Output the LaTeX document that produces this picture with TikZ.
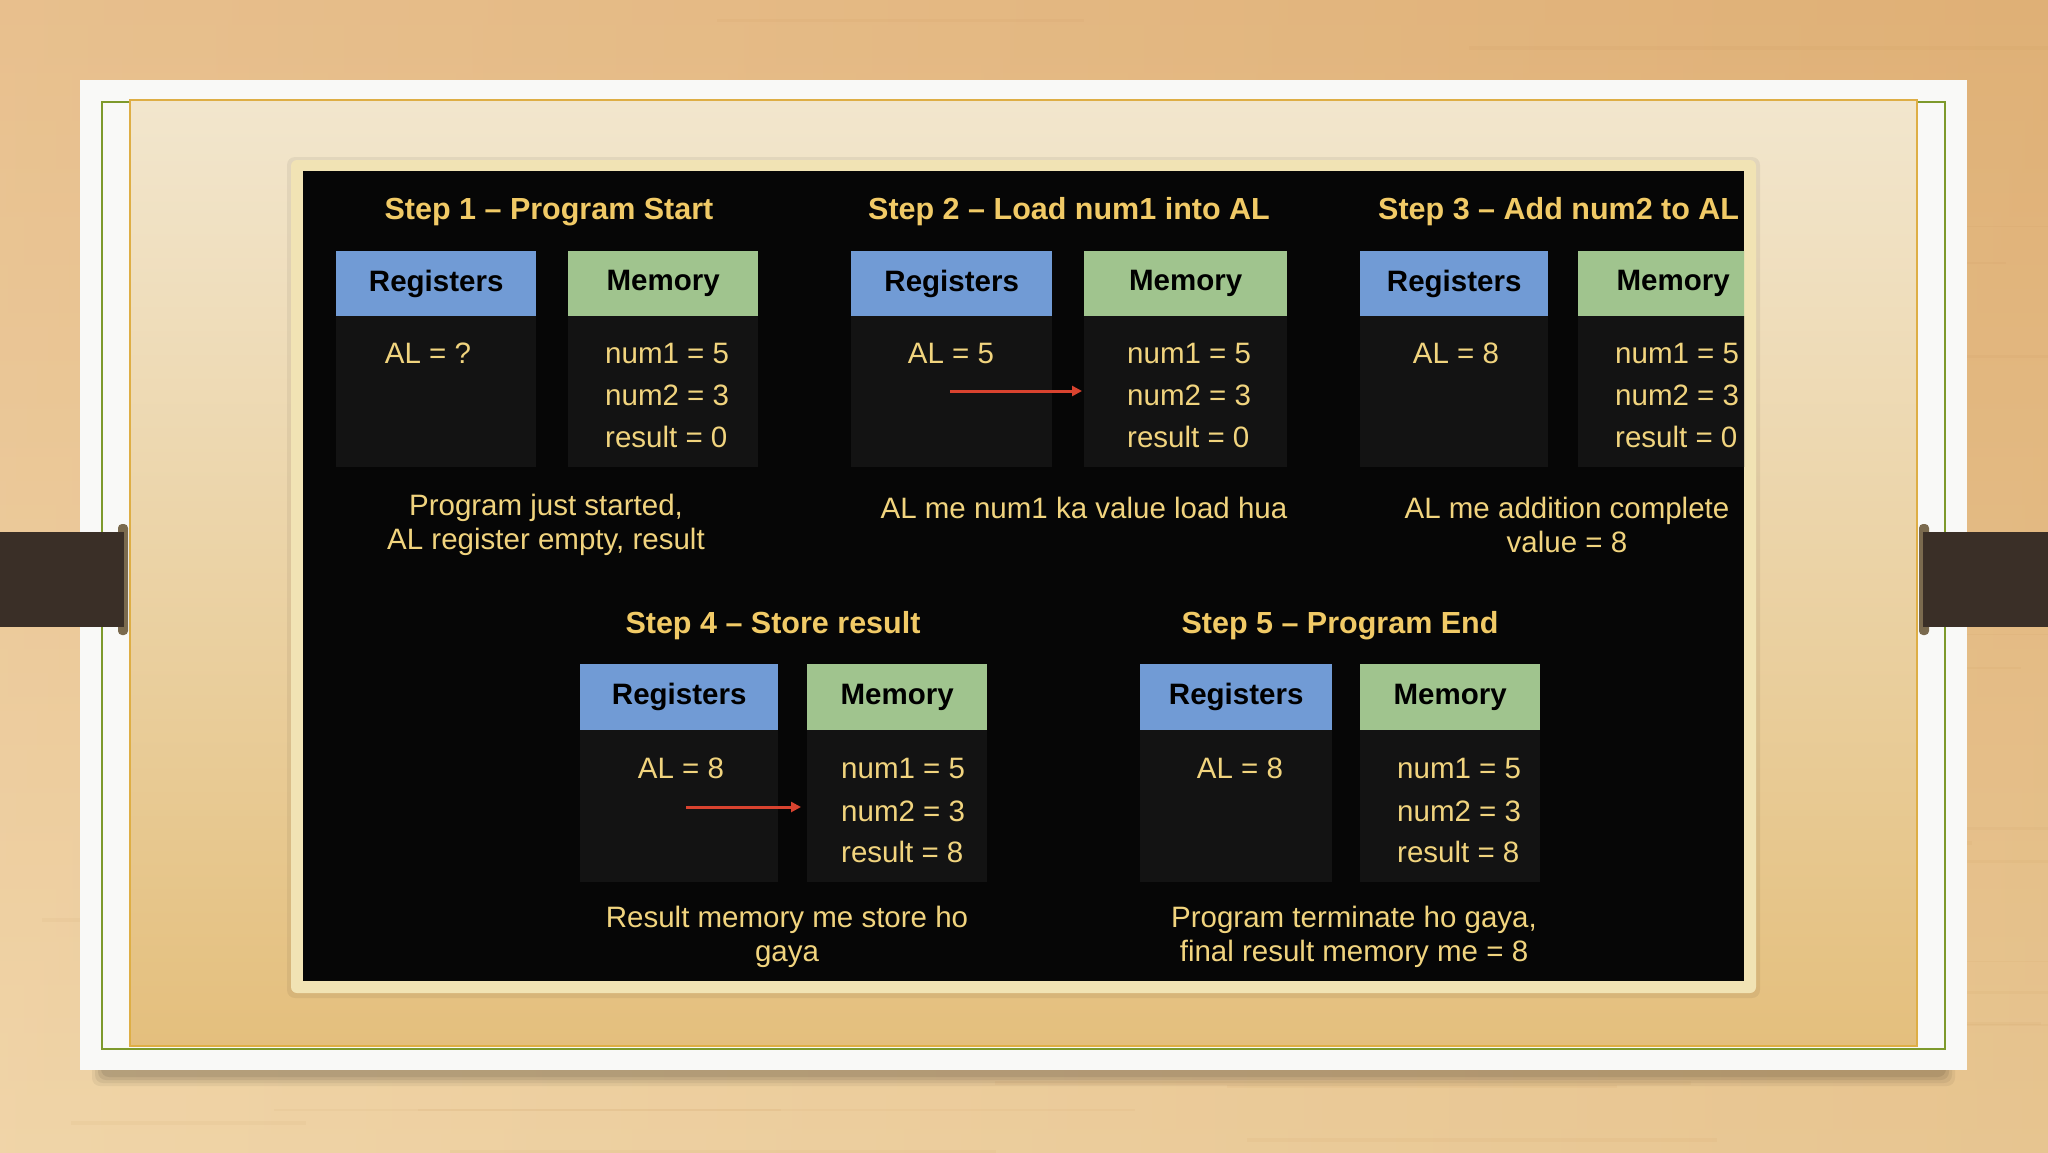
\documentclass[tikz,border=0pt]{standalone}
\usepackage{fontspec}
\setmainfont{Liberation Sans}
\usetikzlibrary{arrows.meta}
\definecolor{woodtop}{HTML}{E5B77E}
\definecolor{woodbot}{HTML}{EECF9C}
\definecolor{woodgrain}{HTML}{B97F3E}
\definecolor{cardwhite}{HTML}{F9F9F7}
\definecolor{greenline}{HTML}{7E9A2C}
\definecolor{paneltop}{HTML}{F2E6CD}
\definecolor{panelbot}{HTML}{E4BF7D}
\definecolor{panelborder}{HTML}{DEAE45}
\definecolor{framec}{HTML}{F1E3B4}
\definecolor{blackc}{HTML}{060606}
\definecolor{bodyc}{HTML}{131313}
\definecolor{reghdrc}{HTML}{719BD5}
\definecolor{memhdrc}{HTML}{A0C48E}
\definecolor{titlec}{HTML}{F1CA66}
\definecolor{txtc}{HTML}{F1D47E}
\definecolor{arrowred}{HTML}{D9432F}
\definecolor{barc}{HTML}{3A2F27}
\definecolor{knobc}{HTML}{7A6A4E}
\begin{document}
\begin{tikzpicture}[x=1pt,y=-1pt,
 ttl/.style={text=titlec, font=\fontsize{30.5}{36}\selectfont\bfseries, inner sep=0pt},
 reghdr/.style={fill=reghdrc, text=black, font=\fontsize{29.5}{34}\selectfont\bfseries, inner sep=0pt, minimum height=65pt, anchor=north west},
 memhdr/.style={reghdr, fill=memhdrc},
 bodybox/.style={fill=bodyc, inner sep=0pt, anchor=north west},
 val/.style={text=txtc, font=\fontsize{29.5}{34}\selectfont, inner sep=0pt},
 memval/.style={val, anchor=west},
 captxt/.style={text=txtc, font=\fontsize{29.5}{34}\selectfont, inner sep=0pt, align=center},
 redarrow/.style={draw=arrowred, line width=3pt, -{Triangle[length=10pt,width=10pt]}}
]
\useasboundingbox (0,0) rectangle (2048,1152);
% wood background
\shade[top color=woodtop, bottom color=woodbot] (0,0) rectangle (2048,1152);
\shade[left color=white, right color=woodgrain, opacity=0.12] (0,0) rectangle (2048,1152);
\pgfmathsetseed{11}
\foreach \i in {1,...,70}{
  \pgfmathsetmacro\yy{random(0,1150)}
  \pgfmathsetmacro\xx{random(0,1600)}
  \pgfmathsetmacro\ww{random(200,900)}
  \pgfmathsetmacro\hh{random(1,4)}
  \fill[woodgrain, opacity=0.06] (\xx,\yy) rectangle (\xx+\ww,\yy+\hh);
}
% card shadow
\foreach \k/\o in {0/0.05,3/0.06,6/0.07,9/0.08}{
  \fill[black, opacity=\o, rounded corners=8pt] (92+\k,1060) rectangle (1955-\k,1086-\k);
}
% white card
\fill[cardwhite] (80,80) rectangle (1967,1070);
\draw[greenline, line width=2.5pt] (102,102) rectangle (1945,1049);
% cream panel
\shade[top color=paneltop, bottom color=panelbot] (130,100) rectangle (1917,1046);
\draw[panelborder, line width=1.5pt] (130,100) rectangle (1917,1046);
% side bars
\fill[knobc, rounded corners=4pt] (118,524) rectangle (128,635);
\fill[barc] (0,532) rectangle (124,627);
\fill[knobc, rounded corners=4pt] (1919,524) rectangle (1929,635);
\fill[barc] (1923,532) rectangle (2048,627);
% frame and black board
\fill[black, opacity=0.06, rounded corners=8pt] (287,157) rectangle (1760,998);
\fill[framec, rounded corners=6pt] (291,160) rectangle (1756,993);
\fill[blackc] (303,171) rectangle (1744,981);

\begin{scope}
\clip (303,171) rectangle (1744,981);
% ---------- Step 1
\node[ttl] (t1) at (549,212) {Step 1 -- Program Start};
\node[reghdr, minimum width=200pt] (r1h) at (336,251) {Registers};
\node[memhdr, minimum width=190pt] (m1h) at (568,251) {Memory};
\node[bodybox, minimum width=200pt, minimum height=151pt] (r1b) at (336,316) {};
\node[bodybox, minimum width=190pt, minimum height=151pt] (m1b) at (568,316) {};
\node[val] (al1) at (428,353) {AL = ?};
\node[memval] (n1a) at (605,353) {num1 = 5};
\node[memval] (n1b) at (605,395) {num2 = 3};
\node[memval] (n1c) at (605,437) {result = 0};
\node[captxt] (c1) at (546,525) {Program just started,\\AL register empty, result};
% ---------- Step 2
\node[ttl] (t2) at (1069,212) {Step 2 -- Load num1 into AL};
\node[reghdr, minimum width=201pt] (r2h) at (851,251) {Registers};
\node[memhdr, minimum width=203pt] (m2h) at (1084,251) {Memory};
\node[bodybox, minimum width=201pt, minimum height=151pt] (r2b) at (851,316) {};
\node[bodybox, minimum width=203pt, minimum height=151pt] (m2b) at (1084,316) {};
\node[val] (al2) at (951,353) {AL = 5};
\node[memval] (n2a) at (1127,353) {num1 = 5};
\node[memval] (n2b) at (1127,395) {num2 = 3};
\node[memval] (n2c) at (1127,437) {result = 0};
\node[captxt] (c2) at (1084,508) {AL me num1 ka value load hua};
\coordinate (a2s) at (950,391);
\draw[redarrow, shorten >=2pt] (a2s) -- (m2b.west |- a2s);
% ---------- Step 3
\node[ttl, anchor=west] (t3) at (1378,212) {Step 3 -- Add num2 to AL};
\node[reghdr, minimum width=188pt] (r3h) at (1360,251) {Registers};
\node[memhdr, minimum width=190pt] (m3h) at (1578,251) {Memory};
\node[bodybox, minimum width=188pt, minimum height=151pt] (r3b) at (1360,316) {};
\node[bodybox, minimum width=190pt, minimum height=151pt] (m3b) at (1578,316) {};
\node[val] (al3) at (1456,353) {AL = 8};
\node[memval] (n3a) at (1615,353) {num1 = 5};
\node[memval] (n3b) at (1615,395) {num2 = 3};
\node[memval] (n3c) at (1615,437) {result = 0};
\node[captxt] (c3) at (1567,525) {AL me addition complete\\value = 8};
% ---------- Step 4
\node[ttl] (t4) at (773,626) {Step 4 -- Store result};
\node[reghdr, minimum width=198pt, minimum height=66pt] (r4h) at (580,664) {Registers};
\node[memhdr, minimum width=180pt, minimum height=66pt] (m4h) at (807,664) {Memory};
\node[bodybox, minimum width=198pt, minimum height=152pt] (r4b) at (580,730) {};
\node[bodybox, minimum width=180pt, minimum height=152pt] (m4b) at (807,730) {};
\node[val] (al4) at (681,768) {AL = 8};
\node[memval] (n4a) at (841,768) {num1 = 5};
\node[memval] (n4b) at (841,811) {num2 = 3};
\node[memval] (n4c) at (841,852) {result = 8};
\node[captxt] (c4) at (787,937) {Result memory me store ho\\gaya};
\coordinate (a4s) at (686,807);
\draw[redarrow, shorten >=6pt] (a4s) -- (m4b.west |- a4s);
% ---------- Step 5
\node[ttl] (t5) at (1340,626) {Step 5 -- Program End};
\node[reghdr, minimum width=192pt, minimum height=66pt] (r5h) at (1140,664) {Registers};
\node[memhdr, minimum width=180pt, minimum height=66pt] (m5h) at (1360,664) {Memory};
\node[bodybox, minimum width=192pt, minimum height=152pt] (r5b) at (1140,730) {};
\node[bodybox, minimum width=180pt, minimum height=152pt] (m5b) at (1360,730) {};
\node[val] (al5) at (1240,768) {AL = 8};
\node[memval] (n5a) at (1397,768) {num1 = 5};
\node[memval] (n5b) at (1397,811) {num2 = 3};
\node[memval] (n5c) at (1397,852) {result = 8};
\node[captxt] (c5) at (1354,937) {Program terminate ho gaya,\\final result memory me = 8};
\end{scope}
\end{tikzpicture}
\end{document}
